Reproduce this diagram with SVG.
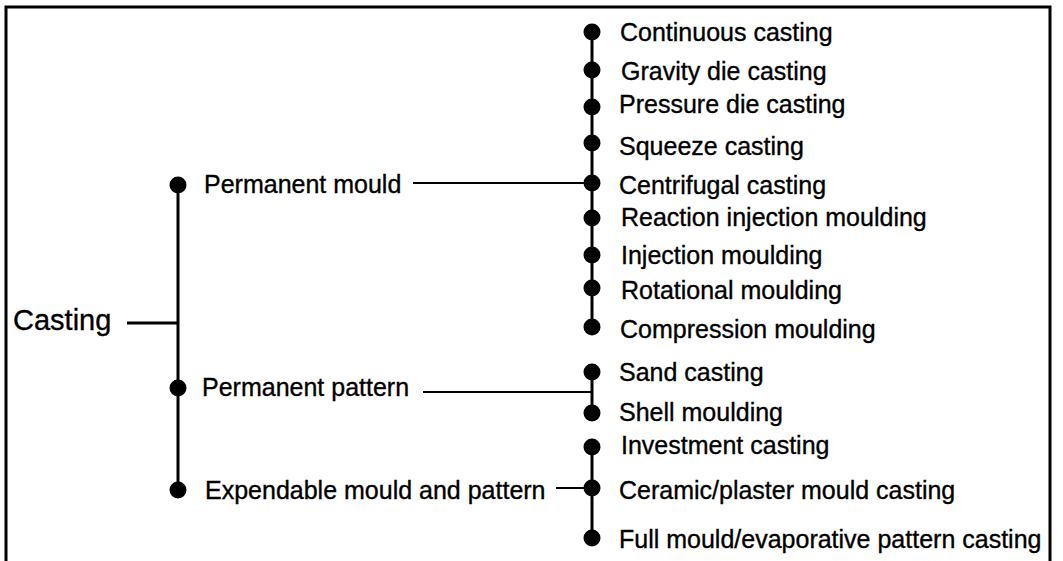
<svg xmlns="http://www.w3.org/2000/svg" width="1063" height="561" viewBox="0 0 1063 561">
<style>
text{font-family:"Liberation Sans",Arial,sans-serif;font-size:25px;fill:#000;stroke:#000;stroke-width:0.35}
.big{font-size:29px}
.dot{fill:#000}
.spine{stroke:#000;stroke-width:3;fill:none}
.link{stroke:#000;stroke-width:2.2;fill:none}
</style>
<rect width="1063" height="561" fill="#fff"/>
<path d="M6,561 V7 H1050 V561" fill="none" stroke="#000" stroke-width="3"/>
<g id="connectors">
<line class="spine" x1="178" y1="185" x2="178" y2="490"/>
<line class="spine" x1="127" y1="323" x2="178" y2="323"/>
<line class="link" x1="413" y1="183" x2="592" y2="183"/>
<line class="link" x1="423" y1="392" x2="592" y2="392"/>
<line class="link" x1="556" y1="488" x2="592" y2="488"/>
<line class="spine" x1="592" y1="32" x2="592" y2="327"/>
<line class="spine" x1="592" y1="372" x2="592" y2="413"/>
<line class="spine" x1="592" y1="447" x2="592" y2="538"/>
</g>
<g id="casting"><text class="big" x="13" y="330">Casting</text></g>
<g id="permanent-mould"><circle class="dot" cx="178" cy="185" r="8.5"/><text x="204" y="193">Permanent mould</text></g>
<g id="permanent-pattern"><circle class="dot" cx="178" cy="388" r="8.5"/><text x="202" y="396">Permanent pattern</text></g>
<g id="expendable"><circle class="dot" cx="178" cy="490" r="8.5"/><text x="205" y="499">Expendable mould and pattern</text></g>
<g id="continuous"><circle class="dot" cx="592" cy="32" r="8.5"/><text x="620" y="41">Continuous casting</text></g>
<g id="gravity"><circle class="dot" cx="592" cy="70" r="8.5"/><text x="621" y="80">Gravity die casting</text></g>
<g id="pressure"><circle class="dot" cx="592" cy="107" r="8.5"/><text x="619" y="113">Pressure die casting</text></g>
<g id="squeeze"><circle class="dot" cx="592" cy="143" r="8.5"/><text x="619" y="155">Squeeze casting</text></g>
<g id="centrifugal"><circle class="dot" cx="592" cy="183" r="8.5"/><text x="619" y="194">Centrifugal casting</text></g>
<g id="reaction"><circle class="dot" cx="592" cy="218" r="8.5"/><text x="621" y="226">Reaction injection moulding</text></g>
<g id="injection"><circle class="dot" cx="592" cy="255" r="8.5"/><text x="621" y="264">Injection moulding</text></g>
<g id="rotational"><circle class="dot" cx="592" cy="288" r="8.5"/><text x="621" y="299">Rotational moulding</text></g>
<g id="compression"><circle class="dot" cx="592" cy="327" r="8.5"/><text x="620" y="338">Compression moulding</text></g>
<g id="sand"><circle class="dot" cx="592" cy="372" r="8.5"/><text x="619" y="381">Sand casting</text></g>
<g id="shell"><circle class="dot" cx="592" cy="413" r="8.5"/><text x="619" y="421">Shell moulding</text></g>
<g id="investment"><circle class="dot" cx="592" cy="447" r="8.5"/><text x="621" y="454">Investment casting</text></g>
<g id="ceramic"><circle class="dot" cx="592" cy="488" r="8.5"/><text x="619" y="499">Ceramic/plaster mould casting</text></g>
<g id="full"><circle class="dot" cx="592" cy="538" r="8.5"/><text x="619" y="548">Full mould/evaporative pattern casting</text></g>
</svg>
